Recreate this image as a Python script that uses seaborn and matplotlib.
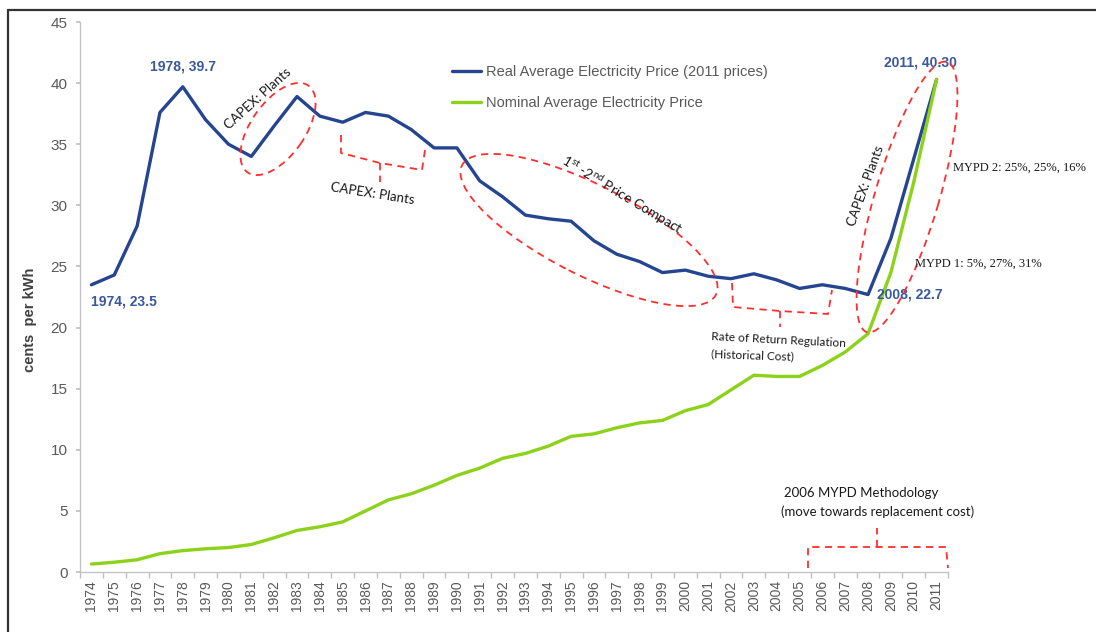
import matplotlib
matplotlib.use("Agg")
import matplotlib.pyplot as plt
import matplotlib.transforms as mtrans
from matplotlib.patches import Ellipse
from matplotlib.lines import Line2D
import seaborn as sns
import pandas as pd
import numpy as np

# ---------------- data ----------------
years = list(range(1974, 2012))
real_price = [23.5, 24.3, 28.3, 37.6, 39.7, 37.0, 35.0, 34.0, 36.5, 38.9,
              37.3, 36.8, 37.6, 37.3, 36.2, 34.7, 34.7, 32.0, 30.7, 29.2,
              28.9, 28.7, 27.1, 26.0, 25.4, 24.5, 24.7, 24.2, 24.0, 24.4,
              23.9, 23.2, 23.5, 23.2, 22.7, 27.3, 33.8, 40.3]
nominal_price = [0.65, 0.8, 1.0, 1.5, 1.75, 1.9, 2.0, 2.25, 2.8, 3.4,
                 3.7, 4.1, 5.0, 5.9, 6.4, 7.1, 7.9, 8.5, 9.3, 9.7,
                 10.3, 11.1, 11.3, 11.8, 12.2, 12.4, 13.2, 13.7, 14.9, 16.1,
                 16.0, 16.0, 16.9, 18.0, 19.5, 24.5, 31.9, 40.3]
series_names = ["Real Average Electricity Price (2011 prices)",
                "Nominal Average Electricity Price"]
y_ticks = [0, 5, 10, 15, 20, 25, 30, 35, 40, 45]

BLUE = "#264591"
LABEL_BLUE = "#3A589E"
GREEN = "#8CD21A"
RED = "#FF2E2E"
GREY = "#595959"

df = pd.DataFrame({
    "Year": years + years,
    "Price": real_price + nominal_price,
    "Series": [series_names[0]] * len(years) + [series_names[1]] * len(years),
})

sns.set_theme(style="white")
plt.rcParams['font.family'] = ['Liberation Sans', 'DejaVu Sans']
plt.rcParams['mathtext.fontset'] = 'custom'
plt.rcParams['mathtext.rm'] = 'Lato'
plt.rcParams['mathtext.it'] = 'Lato:italic'

W, H = 1096, 632
fig = plt.figure(figsize=(W / 100, H / 100), dpi=100)
fig.patch.set_facecolor("white")
ax = fig.add_axes([80 / W, 60 / H, 868 / W, 550 / H])

sns.lineplot(data=df, x="Year", y="Price", hue="Series",
             palette=[BLUE, GREEN], linewidth=2.4, ax=ax, legend=True)

ax.set_xlim(years[0] - 0.5, years[-1] + 0.5)
ax.set_ylim(0, 45)
ax.set_xticks(years)
ax.set_xticklabels([str(y) for y in years], rotation=90)
ax.set_xticks(np.arange(years[0] - 0.5, years[-1] + 1, 1), minor=True)
ax.set_yticks(y_ticks)
ax.set_xlabel("")
ax.set_ylabel("cents  per kWh", fontweight="bold", fontsize=10.5, color="#404040")
ax.yaxis.set_label_coords(-0.0495, 0.458)

ax.tick_params(axis="x", which="major", length=0, pad=6, labelsize=10, labelcolor=GREY, bottom=True)
ax.tick_params(axis="x", which="minor", length=4, color="#c0c0c0", bottom=True, direction="out")
ax.tick_params(axis="y", which="major", length=3, color="#c0c0c0", pad=6, labelsize=11,
               labelcolor=GREY, left=True, direction="out")
for s in ["top", "right"]:
    ax.spines[s].set_visible(False)
for s in ["left", "bottom"]:
    ax.spines[s].set_color("#c4c4c4")
    ax.spines[s].set_linewidth(1.0)

# legend
handles, labels = ax.get_legend_handles_labels()
leg = ax.legend(handles, labels, loc="upper left",
                bbox_to_anchor=(452 / W, 1 - 65 / H), bbox_transform=fig.transFigure,
                frameon=False, fontsize=10.5, handlelength=2.0, handletextpad=0.3,
                labelspacing=1.2, borderpad=0, borderaxespad=0)
for t in leg.get_texts():
    t.set_color(GREY)

# value labels
lab_kw = dict(textcoords="offset pixels", color=LABEL_BLUE, fontweight="bold", fontsize=10,
              va="center")
i78 = years.index(1978)
ax.annotate(f"{years[i78]}, {real_price[i78]}", xy=(years[i78], real_price[i78]),
            xytext=(0, 20), ha="center", **lab_kw)
ax.annotate(f"{years[0]}, {real_price[0]}", xy=(years[0], real_price[0]),
            xytext=(0, -17), ha="left", **lab_kw)
i08 = years.index(2008)
ax.annotate(f"{years[i08]}, {real_price[i08]}", xy=(years[i08], real_price[i08]),
            xytext=(9, 0), ha="left", **lab_kw)
ax.annotate(f"{years[-1]}, {real_price[-1]:.2f}", xy=(years[-1], real_price[-1]),
            xytext=(-16, 17), ha="center", **lab_kw)

# ---------------- annotation overlay (pixel coordinates of the figure) -------------
T = mtrans.IdentityTransform()


def P(x, y):
    return (x, H - y)


dash = (0, (4, 3))


def ell(cx, cy, w, h, ang):
    e = Ellipse(P(cx, cy), width=w, height=h, angle=ang, transform=T, fill=False,
                edgecolor=RED, linestyle=dash, linewidth=1.3)
    fig.add_artist(e)


def poly(pts):
    xs = [p[0] for p in pts]
    ys = [H - p[1] for p in pts]
    fig.add_artist(Line2D(xs, ys, transform=T, color=RED, linestyle=dash, linewidth=1.3))


def txt(x, y, s, rot=0, ha="center", va="center", size=9.5, family="Lato", **kw):
    fig.text(x, H - y, s, transform=T, rotation=rot, rotation_mode="anchor", ha=ha, va=va,
             fontsize=size, family=family, color="#1a1a1a", **kw)


# CAPEX ellipse 1
ell(278, 129, 106, 54, 55)
txt(258, 99, "CAPEX: Plants", rot=42)

# bracket 1
poly([(341, 135), (341, 153), (380, 163), (422, 170), (425, 150)])
poly([(380, 163), (380, 182)])
txt(372, 194, "CAPEX: Plants", rot=-9)

# price compact ellipse
ell(589, 230, 285, 90, -27)
txt(622, 195, r"1$^{\mathrm{st}}$ -2$^{\mathrm{nd}}$ Price Compact", rot=-31, size=10)

# bracket 2
poly([(732, 283), (733, 307), (780, 311), (828, 314), (832, 290)])
poly([(780, 311), (780, 327)])
txt(711, 337, "Rate of Return Regulation", rot=-3, ha="left", size=8.5)
txt(711, 354, "(Historical Cost)", rot=-2, ha="left", size=8.5)

# right ellipse
ell(907, 197, 282, 64, 73.5)
txt(866, 186, "CAPEX: Plants", rot=70)
txt(953, 168, "MYPD 2: 25%, 25%, 16%", ha="left", size=9, family="Liberation Serif")
txt(915, 264, "MYPD 1: 5%, 27%, 31%", ha="left", size=9, family="Liberation Serif")

# MYPD methodology bracket
txt(784, 493, "2006 MYPD Methodology", ha="left", size=9.5)
txt(781, 512, "(move towards replacement cost)", ha="left", size=9.5)
poly([(808, 568), (808, 547), (946, 547), (948, 568)])
poly([(877, 547), (877, 528)])

# outer frame (top and left edges)
fig.add_artist(Line2D([8, W], [H - 10, H - 10], transform=T, color="#333333", linewidth=1.6))
fig.add_artist(Line2D([8, 8], [H - 10, 0], transform=T, color="#333333", linewidth=1.6))

fig.savefig("out.png", dpi=100, facecolor="white")
